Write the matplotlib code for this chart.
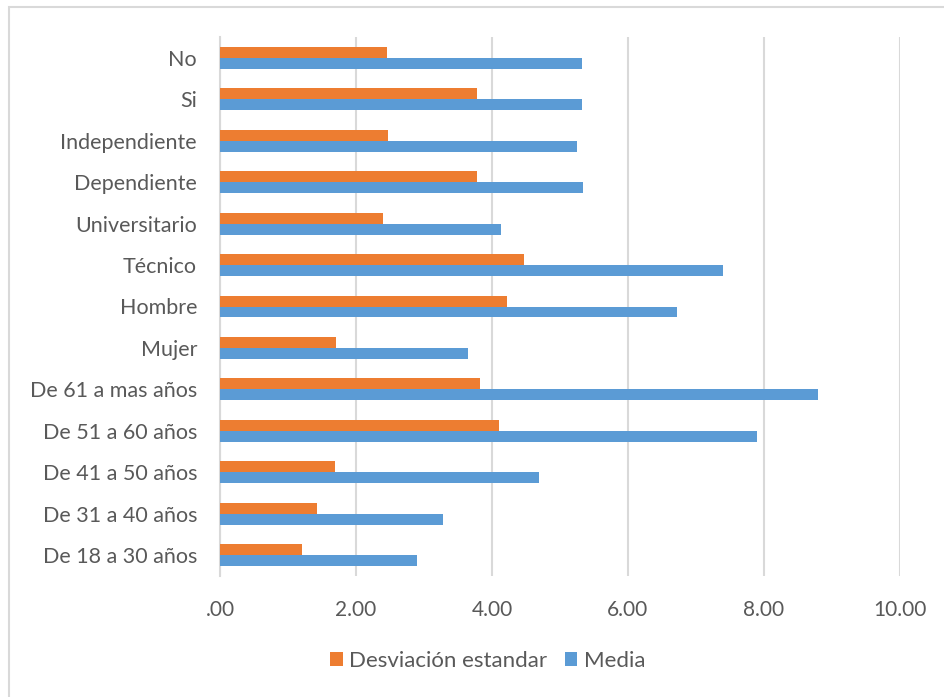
import numpy as np
import matplotlib.pyplot as plt
from matplotlib.patches import Rectangle

# categorias, de abajo hacia arriba
categorias = ['De 18 a 30 años', 'De 31 a 40 años', 'De 41 a 50 años',
              'De 51 a 60 años', 'De 61 a mas años', 'Mujer', 'Hombre',
              'Técnico', 'Universitario', 'Dependiente', 'Independiente',
              'Si', 'No']
media = [2.90, 3.28, 4.69, 7.90, 8.79, 3.64, 6.72, 7.40, 4.13, 5.34, 5.25, 5.33, 5.32]
desviacion = [1.20, 1.42, 1.69, 4.10, 3.82, 1.70, 4.22, 4.47, 2.39, 3.78, 2.47, 3.78, 2.45]
ticks_x = [0, 2, 4, 6, 8, 10]
ticks_lab = ['.00', '2.00', '4.00', '6.00', '8.00', '10.00']

gris = '#595959'
naranja = '#ED7D31'
azul = '#5B9BD5'

plt.rcParams['font.family'] = ['Lato', 'DejaVu Sans']

fig = plt.figure(figsize=(9.44, 6.97), dpi=100)
ax = fig.add_axes([220 / 944, 1 - 576 / 697, 680 / 944, 539 / 697])

y = np.arange(len(categorias))
h = 0.265
ax.barh(y - h / 2, media, height=h, color=azul, label='Media', zorder=3)
ax.barh(y + h / 2, desviacion, height=h, color=naranja, label='Desviación estandar', zorder=3)

ax.set_xlim(0, 10)
ax.set_ylim(-0.5, len(categorias) - 0.5)
ax.set_yticks(y)
ax.set_yticklabels(categorias, fontsize=15.5, color=gris)
ax.set_xticks(ticks_x)
ax.set_xticklabels(ticks_lab, fontsize=15, color=gris)
ax.tick_params(axis='y', length=0, pad=16.5)
ax.tick_params(axis='x', length=0, pad=17)
ax.grid(axis='x', color='#d9d9d9', linewidth=1.5, zorder=0)
for s in ['top', 'right', 'bottom']:
    ax.spines[s].set_visible(False)
ax.spines['left'].set_color('#d9d9d9')
ax.spines['left'].set_linewidth(1.5)

handles, labels = ax.get_legend_handles_labels()
fig.legend(handles[::-1], labels[::-1], loc='center', bbox_to_anchor=(488 / 944, 1 - 661 / 697),
           ncol=2, frameon=False, fontsize=16, labelcolor=gris, handlelength=0.55,
           handleheight=0.55, handletextpad=0.3, columnspacing=0.8)

# borde del grafico
fig.patches.append(Rectangle((9 / 944, -0.1), 1.2, 1 - 7 / 697 + 0.1, transform=fig.transFigure,
                             fill=False, edgecolor='#d9d9d9', linewidth=1.5, zorder=0))

fig.savefig('out.png', dpi=100, facecolor='white')
